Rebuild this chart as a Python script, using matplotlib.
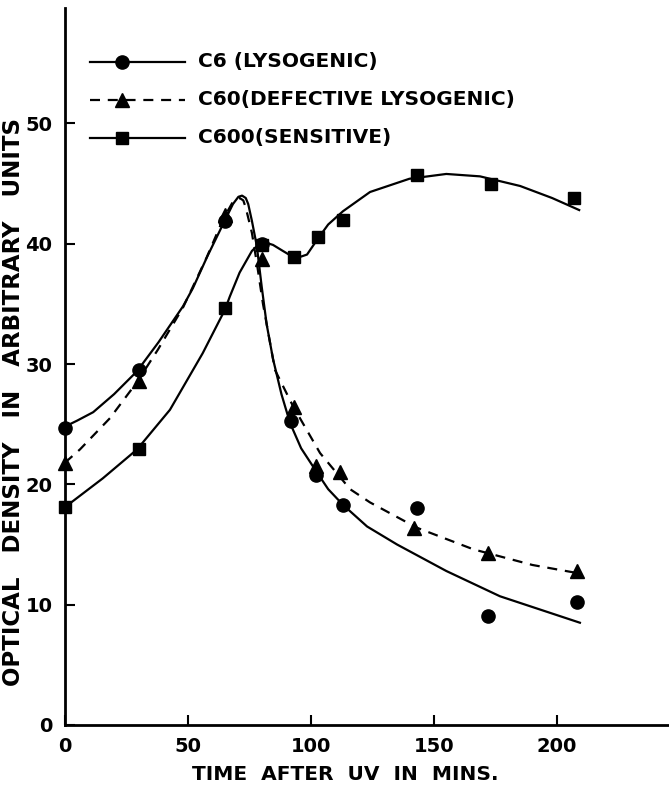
import matplotlib
matplotlib.use("Agg")
import matplotlib.pyplot as plt

# measured points (time in min, optical density)
c6_t = [0, 30, 65, 80, 92, 102, 113, 143, 172, 208]
c6_od = [24.7, 29.5, 41.9, 40.0, 25.3, 20.8, 18.3, 18.0, 9.1, 10.2]

c60_t = [0, 30, 65, 80, 93, 102, 112, 142, 172, 208]
c60_od = [21.8, 28.6, 42.4, 38.7, 26.4, 21.5, 21.0, 16.4, 14.3, 12.8]

c600_t = [0, 30, 65, 80, 93, 103, 113, 143, 173, 207]
c600_od = [18.1, 22.9, 34.7, 39.9, 38.9, 40.6, 42.0, 45.7, 45.0, 43.8]

# hand drawn curves
c6_curve_t = [0, 5, 11.5, 20, 29.3, 38, 48, 52, 58, 64.2, 68.3, 70.5, 72, 73.5, 74.5, 76, 78, 80, 82, 84.6,
              88, 91.5, 96, 102.4, 107, 113, 122.8, 135, 155, 176.8, 209.3]
c6_curve_od = [24.8, 25.3, 26.0, 27.5, 29.4, 31.8, 34.8, 36.3, 39.0, 41.6, 43.3, 43.9, 44.0, 43.8, 43.3, 41.9, 39.8, 36.4, 33.3, 30.4,
               27.5, 25.1, 23.0, 21.0, 19.6, 18.3, 16.5, 15.0, 12.8, 10.7, 8.5]

c60_curve_t = [0, 6.1, 18.3, 29.3, 37.8, 48, 50.8, 57.7, 64.2, 68.3, 71, 72.5, 73.5, 76, 78, 80.5,
               85.4, 92.7, 103.7, 115.9, 124, 143, 166, 190, 209]
c60_curve_od = [21.8, 22.9, 25.5, 28.5, 31.2, 34.7, 35.9, 38.9, 42.0, 43.5, 43.8, 43.6, 43.0, 40.9, 38.4, 35.0,
                29.5, 26.5, 22.6, 19.6, 18.5, 16.4, 14.6, 13.3, 12.6]

c600_curve_t = [0, 15.4, 29.3, 42.7, 56, 65, 67, 71, 76, 78.5, 81.5, 84.6, 88.6, 92.7, 95.5, 98.4, 102.4,
                107, 113, 124, 140, 155, 168.7, 185, 198, 209]
c600_curve_od = [18.1, 20.5, 22.9, 26.2, 30.9, 34.5, 35.6, 37.6, 39.4, 39.9, 40.1, 39.9, 39.4, 38.9, 38.9, 39.1, 40.3,
                 41.6, 42.7, 44.3, 45.4, 45.8, 45.6, 44.8, 43.8, 42.8]

labels = ["C6 (LYSOGENIC)", "C60(DEFECTIVE LYSOGENIC)", "C600(SENSITIVE)"]

plt.rcParams['font.family'] = ['DejaVu Sans']

fig = plt.figure(figsize=(6.69, 7.92), dpi=100)
ax = fig.add_axes([0.097, 0.0846, 0.903, 0.9054])

lw = 1.6
dash = (0, (4.5, 3.5))
ax.plot(c6_curve_t, c6_curve_od, color="black", lw=lw, solid_joinstyle="round")
ax.plot(c60_curve_t, c60_curve_od, color="black", lw=lw, linestyle=dash)
ax.plot(c600_curve_t, c600_curve_od, color="black", lw=lw, solid_joinstyle="round")

ax.plot(c6_t, c6_od, "o", color="black", ms=9.5, clip_on=False)
ax.plot(c60_t, c60_od, "^", color="black", ms=10, clip_on=False)
ax.plot(c600_t, c600_od, "s", color="black", ms=8.5, clip_on=False)

ax.set_xlim(0, 245.5)
ax.set_ylim(0, 59.6)
ax.set_xticks([0, 50, 100, 150, 200])
ax.set_yticks([0, 10, 20, 30, 40, 50])

for s in ["top", "right"]:
    ax.spines[s].set_visible(False)
for s in ["left", "bottom"]:
    ax.spines[s].set_linewidth(2.0)

ax.tick_params(direction="in", length=7, width=1.5, pad=9, labelsize=14)
for t in ax.get_xticklabels() + ax.get_yticklabels():
    t.set_fontweight("bold")

ax.set_xlabel("TIME  AFTER  UV  IN  MINS.", fontsize=14.5, fontweight="bold")
ax.set_ylabel("OPTICAL   DENSITY   IN   ARBITRARY   UNITS", fontsize=16.5, fontweight="bold")
ax.xaxis.set_label_coords(0.464, -0.056)
ax.yaxis.set_label_coords(-0.066, 0.45)

# legend drawn by hand (line with marker near its left third)
rows = [0.925, 0.872, 0.819]
styles = [("o", "-", 9.5), ("^", dash, 10), ("s", "-", 8.5)]
for y, (m, ls, ms), lab in zip(rows, styles, labels):
    ax.plot([0.041, 0.199], [y, y], color="black", lw=lw, linestyle=ls, transform=ax.transAxes)
    ax.plot([0.094], [y], marker=m, color="black", ms=ms, transform=ax.transAxes)
    ax.text(0.22, y, lab, transform=ax.transAxes, fontsize=14.5, fontweight="bold",
            va="center", ha="left")

fig.savefig("out.png", dpi=100)
